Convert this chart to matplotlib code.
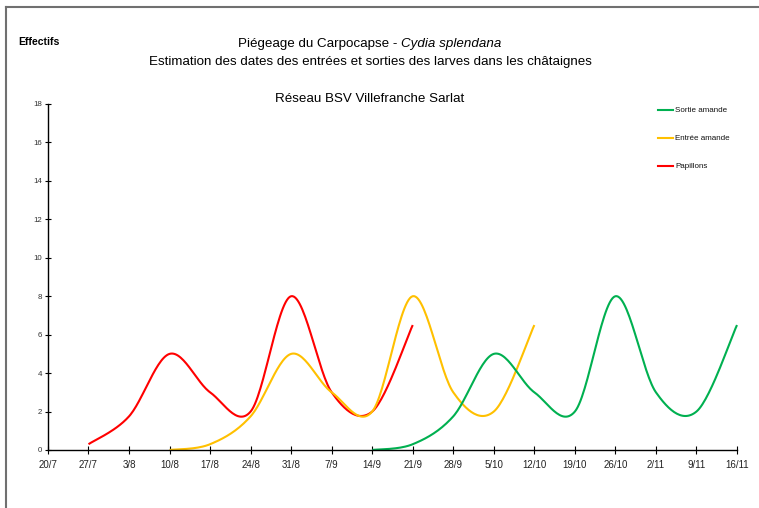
import datetime as dt
import numpy as np
import matplotlib
matplotlib.use("Agg")
import matplotlib.pyplot as plt
import matplotlib.dates as mdates
from matplotlib.lines import Line2D

plt.rcParams['font.family'] = ['Liberation Sans', 'DejaVu Sans']

# weekly counts, first value dated at the given start
papillons_start = "27/7"
papillons = [0.3, 1.75, 5, 3, 2, 8, 3, 2, 6.5]
entree_start = "10/8"
entree = [0, 0.3, 1.75, 5, 3, 2, 8, 3, 2, 6.5]
sortie_start = "14/9"
sortie = [0, 0.3, 1.75, 5, 3, 2, 8, 3, 2, 6.5]

tick_labels = ["20/7", "27/7", "3/8", "10/8", "17/8", "24/8", "31/8", "7/9", "14/9",
               "21/9", "28/9", "5/10", "12/10", "19/10", "26/10", "2/11", "9/11", "16/11"]
y_ticks = [0, 2, 4, 6, 8, 10, 12, 14, 16, 18]


def to_date(s):
    d, m = s.split("/")
    return dt.date(2012, int(m), int(d))


def weekly(start, n):
    d0 = to_date(start)
    return [mdates.date2num(d0 + dt.timedelta(days=7 * i)) for i in range(n)]


def smooth(x, y, n=30):
    # excel-like smoothed line (cardinal bezier)
    x = np.asarray(x, float)
    y = np.asarray(y, float)
    px = np.concatenate([[x[0]], x, [x[-1]]])
    py = np.concatenate([[y[0]], y, [y[-1]]])
    xs, ys = [], []
    t = np.linspace(0, 1, n)
    for i in range(len(x) - 1):
        p0 = np.array([px[i + 1], py[i + 1]])
        p3 = np.array([px[i + 2], py[i + 2]])
        c1 = p0 + (np.array([px[i + 2], py[i + 2]]) - np.array([px[i], py[i]])) / 6
        c2 = p3 - (np.array([px[i + 3], py[i + 3]]) - np.array([px[i + 1], py[i + 1]])) / 6
        b = ((1 - t) ** 3)[:, None] * p0 + (3 * (1 - t) ** 2 * t)[:, None] * c1 \
            + (3 * (1 - t) * t ** 2)[:, None] * c2 + (t ** 3)[:, None] * p3
        xs.extend(b[:, 0])
        ys.extend(b[:, 1])
    return xs, ys


fig = plt.figure(figsize=(7.59, 5.08), dpi=100)
ax = fig.add_axes([0.0632, 0.1142, 0.9078, 0.6811])

series = [
    (papillons_start, papillons, "#FF0000"),
    (entree_start, entree, "#FFC000"),
    (sortie_start, sortie, "#00B050"),
]
for start, vals, col in series:
    xs, ys = smooth(weekly(start, len(vals)), vals)
    ax.plot(xs, ys, color=col, lw=1.5, solid_capstyle="butt", clip_on=False)

tick_pos = [mdates.date2num(to_date(s)) for s in tick_labels]
ax.set_xlim(tick_pos[0], tick_pos[-1])
ax.set_ylim(0, 18)
ax.set_xticks(tick_pos)
ax.set_xticklabels(tick_labels, fontsize=7, color="#222222")
ax.set_yticks(y_ticks)
ax.set_yticklabels([str(v) for v in y_ticks], fontsize=5.7, color="#333333")
ax.tick_params(axis="x", direction="inout", length=6, width=0.8, pad=4)
ax.tick_params(axis="y", direction="inout", length=4, width=0.8, pad=2)
for s in ["top", "right"]:
    ax.spines[s].set_visible(False)
for s in ["left", "bottom"]:
    ax.spines[s].set_linewidth(1.0)

# titles
fs = 9.6
fig.canvas.draw()
r = fig.canvas.get_renderer()
t1 = fig.text(0, 0, "Piégeage du Carpocapse - ", fontsize=fs)
t2 = fig.text(0, 0, "Cydia splendana", fontsize=fs, style="italic")
w1 = t1.get_window_extent(r).width
w2 = t2.get_window_extent(r).width
cx = 370
x0 = cx - (w1 + w2) / 2
t1.set_position((x0 / 759, 1 - 44 / 508))
t1.set_va("center")
t2.set_position(((x0 + w1) / 759, 1 - 44 / 508))
t2.set_va("center")
fig.text(cx / 759, 1 - 62 / 508,
         "Estimation des dates des entrées et sorties des larves dans les châtaignes",
         fontsize=fs, ha="center", va="center")
fig.text(cx / 759, 1 - 99 / 508, "Réseau BSV Villefranche Sarlat",
         fontsize=fs, ha="center", va="center")
fig.text(18 / 759, 1 - 42 / 508, "Effectifs", fontsize=7.6, fontweight="bold",
         va="center", ha="left")

# legend
leg = [("Sortie amande", "#00B050", 110), ("Entrée amande", "#FFC000", 138),
       ("Papillons", "#FF0000", 166)]
for lab, col, yp in leg:
    fig.add_artist(Line2D([658 / 759, 673 / 759], [1 - yp / 508] * 2, color=col, lw=1.5))
    fig.text(675 / 759, 1 - yp / 508, lab, fontsize=5.8, va="center", ha="left",
             color="#111111")

# frame
fig.add_artist(Line2D([6 / 759, 1], [1 - 7 / 508] * 2, color="#707070", lw=1.5))
fig.add_artist(Line2D([6 / 759] * 2, [0, 1 - 7 / 508], color="#707070", lw=1.5))

fig.savefig("out.png", dpi=100)
